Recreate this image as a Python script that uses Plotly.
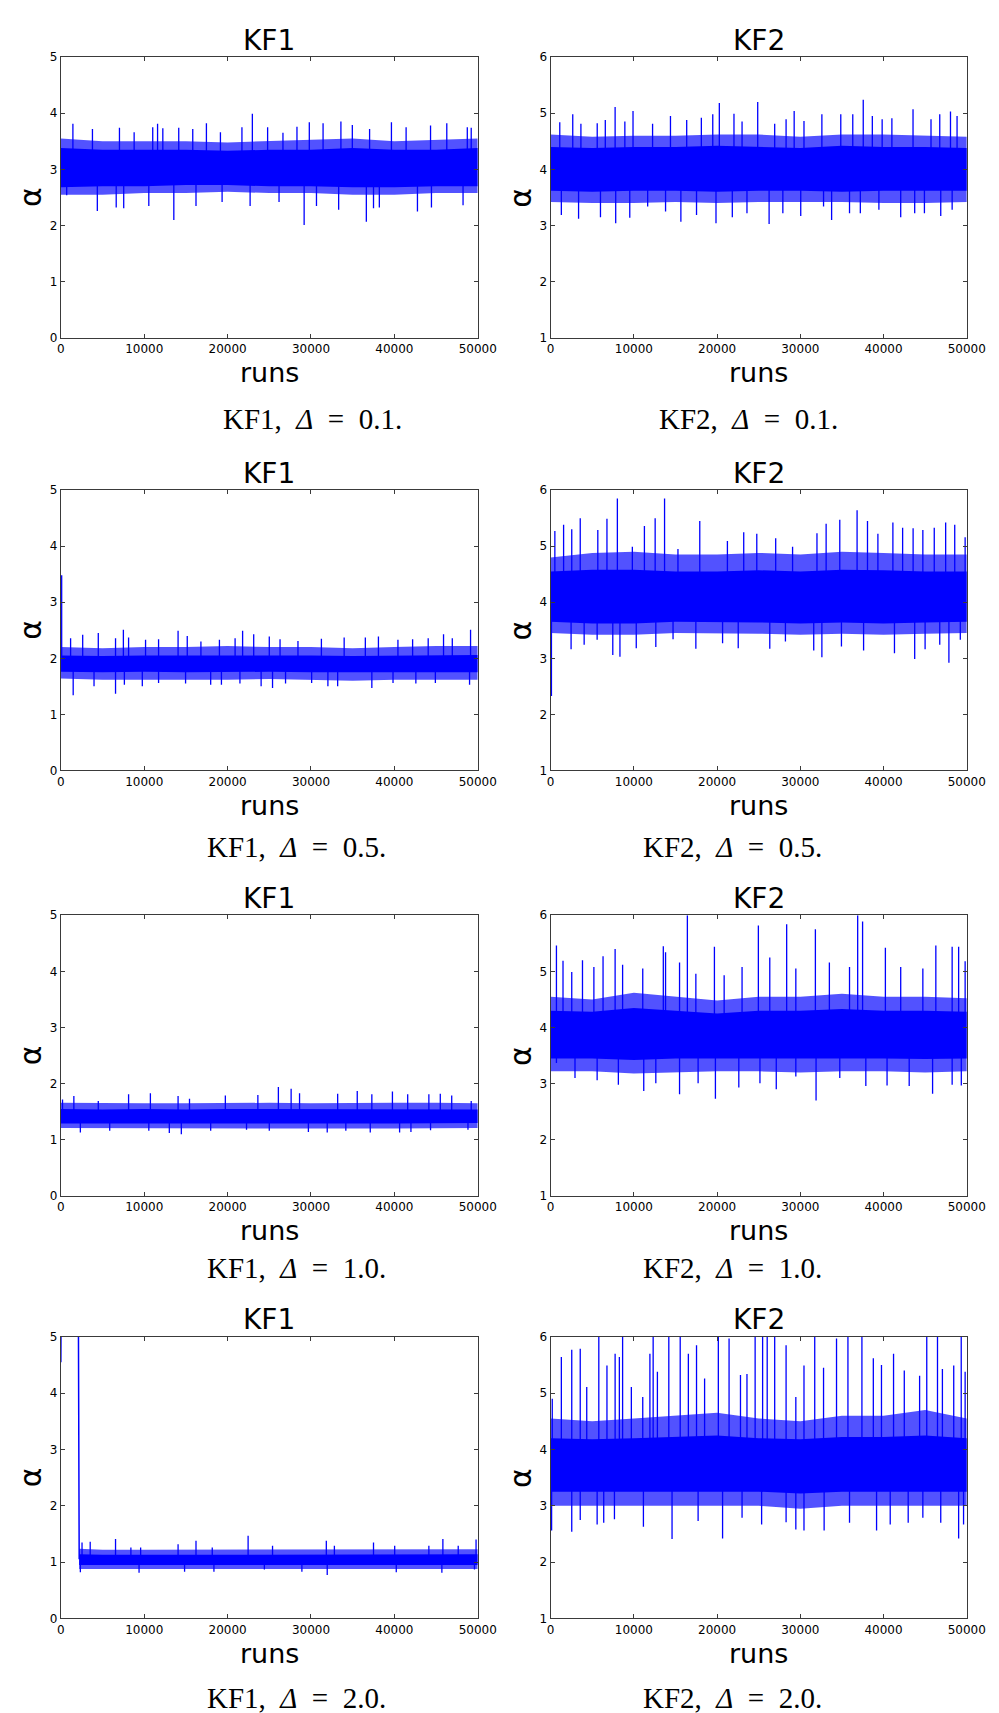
import plotly.graph_objects as go

W, H = 999, 1713

# ---------------- data ----------------
x_ticks = [0, 10000, 20000, 30000, 40000, 50000]
band_runs = [0, 5000, 10000, 15000, 20000, 25000, 30000, 35000, 40000, 45000, 50000]
band_runs_late = [2200, 5000, 10000, 15000, 20000, 25000, 30000, 35000, 40000, 45000, 50000]

# KF1, Delta = 0.1
a_center = 3.02
a_outer_hi = [3.55, 3.50, 3.50, 3.50, 3.48, 3.50, 3.52, 3.55, 3.50, 3.52, 3.55]
a_inner_hi = [3.38, 3.35, 3.35, 3.35, 3.33, 3.35, 3.35, 3.38, 3.35, 3.35, 3.38]
a_inner_lo = [2.68, 2.70, 2.70, 2.72, 2.72, 2.70, 2.70, 2.68, 2.68, 2.70, 2.70]
a_outer_lo = [2.55, 2.55, 2.58, 2.58, 2.60, 2.58, 2.58, 2.55, 2.55, 2.58, 2.58]
a_up = [(1445, 3.81), (3790, 3.72), (7030, 3.74), (8790, 3.66), (11020, 3.75), (11600, 3.81),
        (12230, 3.73), (14140, 3.74), (15820, 3.72), (17460, 3.82), (19140, 3.66), (21720, 3.75),
        (22970, 3.99), (24800, 3.75), (26640, 3.65), (28320, 3.76), (29800, 3.84), (31450, 3.82),
        (33590, 3.85), (34960, 3.79), (37030, 3.72), (39650, 3.84), (41410, 3.75), (44340, 3.78),
        (46290, 3.82), (48750, 3.75), (49220, 3.74)]
a_dn = [(700, 2.54), (4375, 2.26), (6640, 2.32), (7540, 2.31), (10550, 2.35), (13550, 2.10),
        (16210, 2.35), (19340, 2.42), (22700, 2.35), (26170, 2.42), (29180, 2.01), (30660, 2.35),
        (33320, 2.28), (36640, 2.07), (37500, 2.31), (38200, 2.32), (42770, 2.25), (44450, 2.32),
        (48240, 2.36)]

# KF2, Delta = 0.1
b_center = 4.0
b_outer_hi = [4.62, 4.58, 4.60, 4.60, 4.62, 4.62, 4.58, 4.62, 4.62, 4.60, 4.58]
b_inner_hi = [4.40, 4.38, 4.40, 4.40, 4.42, 4.40, 4.38, 4.42, 4.40, 4.40, 4.38]
b_inner_lo = [3.62, 3.60, 3.62, 3.62, 3.60, 3.62, 3.62, 3.60, 3.62, 3.62, 3.62]
b_outer_lo = [3.42, 3.40, 3.40, 3.42, 3.40, 3.42, 3.42, 3.42, 3.40, 3.40, 3.42]
b_up = [(1100, 4.84), (2660, 4.98), (3640, 4.81), (5600, 4.82), (6570, 4.88), (7750, 5.11),
        (8920, 4.85), (9900, 5.04), (12250, 4.81), (14400, 4.95), (16350, 4.88), (18110, 4.92),
        (19480, 4.98), (20270, 5.18), (22030, 4.99), (23000, 4.85), (24880, 5.20), (26920, 4.81),
        (28290, 4.89), (29260, 5.04), (30440, 4.86), (32590, 4.98), (34860, 4.98), (36300, 4.98),
        (37560, 5.24), (38650, 4.95), (39830, 4.89), (41000, 4.91), (43540, 5.07), (45700, 4.89),
        (46750, 4.98), (48040, 5.03), (48830, 4.95)]
b_dn = [(1290, 3.19), (3360, 3.12), (5990, 3.15), (7820, 3.04), (9510, 3.14), (11660, 3.34),
        (13810, 3.25), (15650, 3.07), (17530, 3.19), (19870, 3.04), (21830, 3.15), (23590, 3.22),
        (26250, 3.03), (27900, 3.22), (30050, 3.17), (32790, 3.34), (33760, 3.10), (35910, 3.22),
        (37210, 3.22), (39440, 3.28), (42060, 3.15), (43740, 3.22), (44910, 3.22), (46870, 3.17),
        (48240, 3.28)]

# KF1, Delta = 0.5
c_center = 1.9
c_outer_hi = [2.20, 2.18, 2.20, 2.20, 2.22, 2.20, 2.20, 2.18, 2.20, 2.22, 2.22]
c_inner_hi = [2.05, 2.04, 2.05, 2.05, 2.06, 2.05, 2.05, 2.04, 2.05, 2.06, 2.06]
c_inner_lo = [1.76, 1.75, 1.76, 1.75, 1.75, 1.76, 1.75, 1.74, 1.75, 1.75, 1.75]
c_outer_lo = [1.64, 1.62, 1.63, 1.62, 1.62, 1.63, 1.62, 1.60, 1.62, 1.62, 1.62]
c_up = [(100, 3.48), (1170, 2.36), (2620, 2.42), (4490, 2.45), (6560, 2.36), (7500, 2.51),
        (8125, 2.37), (10160, 2.33), (11720, 2.34), (14060, 2.49), (15160, 2.40), (16800, 2.30),
        (19020, 2.33), (20900, 2.36), (21800, 2.49), (23130, 2.43), (25000, 2.39), (26290, 2.34),
        (28440, 2.31), (31250, 2.35), (33980, 2.37), (36520, 2.37), (38090, 2.39), (40430, 2.33),
        (42190, 2.34), (44060, 2.36), (45900, 2.43), (46950, 2.36), (49140, 2.51)]
c_dn = [(1480, 1.34), (3980, 1.50), (6560, 1.37), (7620, 1.53), (9770, 1.50), (11720, 1.56),
        (14960, 1.55), (17970, 1.53), (19260, 1.53), (21480, 1.55), (24020, 1.50), (25390, 1.47),
        (26950, 1.55), (30080, 1.56), (32030, 1.50), (33200, 1.50), (37300, 1.47), (39840, 1.56),
        (42580, 1.55), (44920, 1.56), (49020, 1.53)]

# KF2, Delta = 0.5
d_center = 4.1
d_outer_hi = [4.80, 4.88, 4.90, 4.85, 4.85, 4.88, 4.85, 4.90, 4.88, 4.85, 4.85]
d_inner_hi = [4.55, 4.58, 4.58, 4.55, 4.55, 4.57, 4.55, 4.58, 4.57, 4.55, 4.55]
d_inner_lo = [3.65, 3.62, 3.62, 3.65, 3.65, 3.64, 3.62, 3.64, 3.62, 3.64, 3.65]
d_outer_lo = [3.45, 3.42, 3.42, 3.45, 3.45, 3.44, 3.42, 3.44, 3.42, 3.44, 3.45]
d_up = [(510, 5.27), (1560, 5.38), (2540, 5.30), (3560, 5.50), (5670, 5.29), (6770, 5.49),
        (8020, 5.85), (9820, 4.99), (11270, 5.36), (12560, 5.50), (13690, 5.85), (15300, 4.95),
        (17920, 5.45), (21240, 5.09), (23200, 5.25), (24770, 5.22), (27040, 5.14), (29070, 4.99),
        (32000, 5.23), (33100, 5.40), (34740, 5.47), (36820, 5.64), (38070, 5.45), (39320, 5.22),
        (41120, 5.42), (42290, 5.33), (43550, 5.32), (44720, 5.29), (46090, 5.33), (47460, 5.42),
        (48550, 5.38), (49800, 5.16)]
d_dn = [(100, 2.33), (2460, 3.16), (4030, 3.24), (5590, 3.33), (7470, 3.06), (8330, 3.03),
        (10290, 3.18), (12640, 3.20), (14710, 3.34), (17450, 3.17), (20660, 3.27), (22540, 3.18),
        (26330, 3.17), (28210, 3.30), (31610, 3.14), (32590, 3.02), (34940, 3.21), (37600, 3.14),
        (41310, 3.09), (43740, 2.99), (44990, 3.16), (46750, 3.24), (47850, 2.92), (49220, 3.33)]

# KF1, Delta = 1.0
e_center = 1.42
e_outer_hi = [1.66, 1.65, 1.65, 1.65, 1.66, 1.66, 1.65, 1.66, 1.66, 1.66, 1.65]
e_inner_hi = [1.55, 1.54, 1.55, 1.54, 1.55, 1.55, 1.55, 1.55, 1.55, 1.55, 1.54]
e_inner_lo = [1.29, 1.30, 1.29, 1.29, 1.30, 1.30, 1.29, 1.29, 1.29, 1.29, 1.30]
e_outer_lo = [1.21, 1.21, 1.20, 1.20, 1.21, 1.21, 1.20, 1.20, 1.20, 1.20, 1.21]
e_up = [(200, 1.72), (1560, 1.78), (4490, 1.69), (8125, 1.81), (10740, 1.83), (14060, 1.78),
        (15430, 1.73), (19730, 1.79), (23630, 1.80), (26090, 1.94), (27620, 1.91), (28630, 1.83),
        (33200, 1.82), (35550, 1.87), (37300, 1.81), (39770, 1.86), (41600, 1.81), (44140, 1.81),
        (45510, 1.82), (46880, 1.79), (49220, 1.69)]
e_dn = [(2340, 1.13), (5860, 1.16), (10550, 1.16), (13010, 1.12), (14450, 1.10), (17970, 1.16),
        (22270, 1.18), (25000, 1.16), (29690, 1.14), (31950, 1.13), (34180, 1.16), (37110, 1.13),
        (40630, 1.13), (41990, 1.14), (44340, 1.17), (48830, 1.18)]

# KF2, Delta = 1.0
f_center = 3.85
f_outer_hi = [4.55, 4.50, 4.62, 4.55, 4.48, 4.55, 4.55, 4.60, 4.55, 4.55, 4.52]
f_inner_hi = [4.30, 4.28, 4.35, 4.30, 4.25, 4.30, 4.30, 4.33, 4.30, 4.30, 4.28]
f_inner_lo = [3.45, 3.45, 3.42, 3.45, 3.45, 3.45, 3.45, 3.45, 3.45, 3.44, 3.45]
f_outer_lo = [3.22, 3.22, 3.18, 3.20, 3.22, 3.22, 3.20, 3.22, 3.22, 3.20, 3.22]
f_up = [(700, 5.46), (1490, 5.19), (2540, 4.99), (3830, 5.20), (5200, 5.08), (6300, 5.27),
        (7750, 5.40), (8650, 5.12), (11070, 5.05), (13540, 5.45), (13810, 5.34), (15490, 5.16),
        (16430, 6.00), (17450, 4.96), (19680, 5.44), (20850, 4.93), (23000, 5.08), (24960, 5.82),
        (26330, 5.25), (28360, 5.84), (29460, 5.05), (31810, 5.75), (33490, 5.16), (35910, 5.08),
        (36890, 6.00), (37480, 5.89), (40220, 5.42), (42060, 5.08), (44720, 5.05), (46280, 5.46),
        (48240, 5.44), (49020, 5.44), (49800, 5.18)]
f_dn = [(700, 3.37), (2930, 3.10), (5590, 3.06), (8140, 2.98), (11190, 2.87), (12640, 3.01),
        (15490, 2.81), (17720, 3.01), (19800, 2.73), (22610, 2.93), (25150, 3.01), (27110, 2.90),
        (29460, 3.13), (31890, 2.70), (34740, 3.10), (37870, 2.96), (40420, 2.97), (43080, 2.96),
        (45890, 2.82), (48240, 2.98), (49340, 2.97)]

# KF1, Delta = 2.0 (starts off-scale, settles after ~2150 runs)
g_warmup_runs = [0, 60, 2080, 2120, 2150, 2200]
g_warmup_alpha = [4.55, 6.50, 6.50, 3.17, 6.50, 1.05]
g_center = 1.03
g_outer_hi = [1.24, 1.22, 1.22, 1.22, 1.22, 1.23, 1.22, 1.22, 1.22, 1.22, 1.23]
g_inner_hi = [1.14, 1.13, 1.13, 1.13, 1.13, 1.14, 1.13, 1.13, 1.13, 1.13, 1.14]
g_inner_lo = [0.95, 0.95, 0.95, 0.95, 0.95, 0.95, 0.95, 0.95, 0.95, 0.95, 0.95]
g_outer_lo = [0.88, 0.88, 0.88, 0.88, 0.88, 0.88, 0.88, 0.88, 0.88, 0.88, 0.88]
g_up = [(2540, 1.35), (3520, 1.36), (6560, 1.41), (8400, 1.26), (9570, 1.26), (14060, 1.32),
        (16210, 1.38), (18160, 1.26), (22460, 1.47), (25390, 1.29), (31840, 1.38), (32810, 1.29),
        (37500, 1.35), (40040, 1.29), (44140, 1.29), (45820, 1.41), (47660, 1.29), (49800, 1.40)]
g_dn = [(2340, 0.82), (9380, 0.81), (14840, 0.83), (18360, 0.83), (24410, 0.87), (28910, 0.83),
        (31950, 0.77), (40230, 0.82), (45700, 0.81), (49610, 0.87)]

# KF2, Delta = 2.0
h_center = 3.65
h_outer_hi = [4.55, 4.50, 4.55, 4.60, 4.65, 4.55, 4.50, 4.60, 4.60, 4.70, 4.55]
h_inner_hi = [4.20, 4.18, 4.20, 4.22, 4.25, 4.20, 4.18, 4.22, 4.22, 4.25, 4.20]
h_inner_lo = [3.25, 3.25, 3.25, 3.25, 3.25, 3.25, 3.22, 3.25, 3.25, 3.25, 3.25]
h_outer_lo = [3.00, 3.00, 3.00, 3.00, 3.00, 3.00, 2.95, 3.00, 3.00, 3.00, 3.00]
h_up = [(200, 4.90), (1290, 5.64), (2540, 5.77), (3560, 5.79), (4340, 5.11), (5790, 6.00),
        (6770, 5.49), (7750, 5.70), (8260, 5.64), (8650, 6.00), (9700, 5.11), (11070, 4.93),
        (11930, 5.70), (12320, 6.00), (12830, 5.38), (14200, 6.00), (15570, 6.00), (16550, 5.70),
        (17530, 5.85), (18500, 5.26), (20150, 6.00), (21440, 5.97), (22810, 5.32), (23590, 5.34),
        (24570, 6.00), (25470, 6.00), (26020, 6.00), (26920, 6.00), (28290, 5.85), (29460, 4.93),
        (30440, 5.49), (31730, 6.00), (32790, 5.45), (34350, 5.97), (35720, 6.00), (37400, 6.00),
        (38770, 5.62), (39750, 5.50), (41200, 5.70), (42490, 5.40), (44330, 5.31), (45190, 6.00),
        (46480, 6.00), (47070, 5.43), (48430, 5.49), (49330, 6.00), (49800, 5.38)]
h_dn = [(120, 2.56), (2540, 2.54), (3560, 2.75), (5590, 2.67), (6380, 2.70), (7670, 2.76),
        (11150, 2.63), (14590, 2.41), (17720, 2.73), (20660, 2.42), (23000, 2.79), (25350, 2.67),
        (28290, 2.71), (29460, 2.58), (30440, 2.56), (32860, 2.56), (35910, 2.70), (39160, 2.56),
        (40800, 2.67), (42960, 2.70), (44720, 2.79), (46870, 2.70), (49020, 2.42), (49610, 2.67)]

titles = ["KF1", "KF2"]
deltas = ["0.1", "0.5", "1.0", "2.0"]

# ---------------- layout geometry (pixels) ----------------
col_px = [(50, 476.7), (551.3, 977.3)]
row_px = [(42.3, 325.7), (479, 761.7), (907.7, 1190.7), (1332.7, 1616.7)]
caption_dy = [82, 77, 73, 80]
caption_cx = [(308, 754), (291, 737), (291, 737), (291, 737)]

BLUE = "#0000ff"
AXC = "#3a3a3a"
GAP = "&nbsp;&nbsp;"


def fx(px):
    return px / W


def fy(py):
    return 1 - py / H


panels = [
    dict(row=0, col=0, yr=[0, 5], runs=band_runs, c=a_center, ohi=a_outer_hi, ihi=a_inner_hi, ilo=a_inner_lo, olo=a_outer_lo, up=a_up, dn=a_dn),
    dict(row=0, col=1, yr=[1, 6], runs=band_runs, c=b_center, ohi=b_outer_hi, ihi=b_inner_hi, ilo=b_inner_lo, olo=b_outer_lo, up=b_up, dn=b_dn),
    dict(row=1, col=0, yr=[0, 5], runs=band_runs, c=c_center, ohi=c_outer_hi, ihi=c_inner_hi, ilo=c_inner_lo, olo=c_outer_lo, up=c_up, dn=c_dn),
    dict(row=1, col=1, yr=[1, 6], runs=band_runs, c=d_center, ohi=d_outer_hi, ihi=d_inner_hi, ilo=d_inner_lo, olo=d_outer_lo, up=d_up, dn=d_dn),
    dict(row=2, col=0, yr=[0, 5], runs=band_runs, c=e_center, ohi=e_outer_hi, ihi=e_inner_hi, ilo=e_inner_lo, olo=e_outer_lo, up=e_up, dn=e_dn),
    dict(row=2, col=1, yr=[1, 6], runs=band_runs, c=f_center, ohi=f_outer_hi, ihi=f_inner_hi, ilo=f_inner_lo, olo=f_outer_lo, up=f_up, dn=f_dn),
    dict(row=3, col=0, yr=[0, 5], runs=band_runs_late, c=g_center, ohi=g_outer_hi, ihi=g_inner_hi, ilo=g_inner_lo, olo=g_outer_lo, up=g_up, dn=g_dn,
         warm=(g_warmup_runs, g_warmup_alpha)),
    dict(row=3, col=1, yr=[1, 6], runs=band_runs, c=h_center, ohi=h_outer_hi, ihi=h_inner_hi, ilo=h_inner_lo, olo=h_outer_lo, up=h_up, dn=h_dn),
]

fig = go.Figure()
annotations = []

for i, p in enumerate(panels, start=1):
    xa = "x" if i == 1 else f"x{i}"
    ya = "y" if i == 1 else f"y{i}"
    r, cidx = p["row"], p["col"]
    x0, x1 = col_px[cidx]
    y0, y1 = row_px[r]

    runs = p["runs"]
    # outer (fringe) band
    fig.add_trace(go.Scatter(x=runs + runs[::-1], y=p["ohi"] + p["olo"][::-1], fill="toself",
                             fillcolor="rgba(0,0,255,0.68)", line=dict(width=0), mode="lines",
                             xaxis=xa, yaxis=ya, showlegend=False, hoverinfo="skip"))
    # dense core
    fig.add_trace(go.Scatter(x=runs + runs[::-1], y=p["ihi"] + p["ilo"][::-1], fill="toself",
                             fillcolor=BLUE, line=dict(width=0), mode="lines",
                             xaxis=xa, yaxis=ya, showlegend=False, hoverinfo="skip"))
    # spikes
    sx, sy = [], []
    for rr, v in p["up"] + p["dn"]:
        sx += [rr, rr, None]
        sy += [p["c"], v, None]
    fig.add_trace(go.Scatter(x=sx, y=sy, mode="lines", line=dict(color=BLUE, width=1.3),
                             xaxis=xa, yaxis=ya, showlegend=False, connectgaps=False))
    if "warm" in p:
        wr, wa = p["warm"]
        fig.add_trace(go.Scatter(x=wr, y=wa, mode="lines", line=dict(color=BLUE, width=1.5),
                                 xaxis=xa, yaxis=ya, showlegend=False))

    axis_common = dict(showline=True, linecolor=AXC, linewidth=1, mirror="allticks",
                       ticks="inside", ticklen=4, tickwidth=1, tickcolor=AXC,
                       showgrid=False, zeroline=False,
                       tickfont=dict(family="DejaVu Sans", size=12, color="black"))
    fig.layout[xa.replace("x", "xaxis")] = dict(
        domain=[fx(x0), fx(x1)], anchor=ya, range=[0, 50000], tickvals=x_ticks,
        ticktext=[str(t) for t in x_ticks], **axis_common)
    fig.layout[ya.replace("y", "yaxis")] = dict(
        domain=[fy(y1), fy(y0)], anchor=xa, range=p["yr"], dtick=1, tick0=0, **axis_common)

    cx = (x0 + x1) / 2
    annotations.append(dict(text=titles[cidx], x=fx(cx), y=fy(y0 - 17), xref="paper", yref="paper",
                            showarrow=False, xanchor="center", yanchor="middle",
                            font=dict(family="DejaVu Sans", size=28, color="black")))
    annotations.append(dict(text="runs", x=fx(cx), y=fy(y1 + 35), xref="paper", yref="paper",
                            showarrow=False, xanchor="center", yanchor="middle",
                            font=dict(family="DejaVu Sans", size=27, color="black")))
    annotations.append(dict(text="α", x=fx(x0 - 31), y=fy((y0 + y1) / 2), xref="paper", yref="paper",
                            showarrow=False, xanchor="center", yanchor="middle", textangle=-90,
                            font=dict(family="DejaVu Sans", size=30, color="black")))
    annotations.append(dict(text=f"{titles[cidx]},{GAP}<i>Δ</i>{GAP}={GAP}{deltas[r]}.",
                            x=fx(caption_cx[r][cidx]), y=fy(y1 + caption_dy[r]),
                            xref="paper", yref="paper", showarrow=False,
                            xanchor="center", yanchor="middle",
                            font=dict(family="Liberation Serif", size=29, color="black")))

fig.update_layout(width=W, height=H, margin=dict(l=0, r=0, t=0, b=0),
                  paper_bgcolor="white", plot_bgcolor="white", annotations=annotations,
                  showlegend=False)

fig.write_html("out.html")
